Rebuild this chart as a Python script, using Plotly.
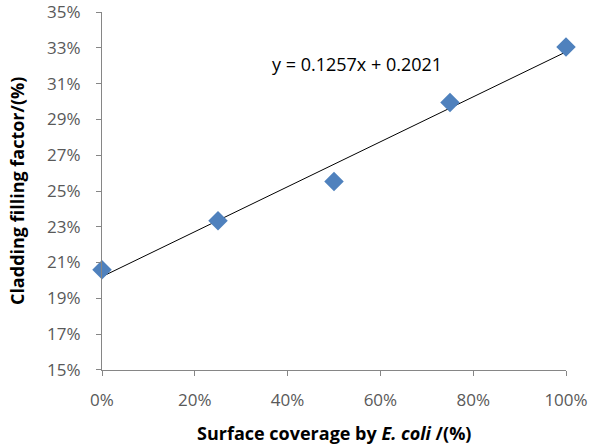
import plotly.graph_objects as go

# Measured filling factor versus E. coli surface coverage (fractions)
coverage = [0.0, 0.25, 0.50, 0.75, 1.00]
filling_factor = [0.2059, 0.2334, 0.2553, 0.2995, 0.3305]

# Linear fit reported on the chart
slope = 0.1257
intercept = 0.2021
fit_x = [0.0, 1.0]
fit_y = [intercept + slope * x for x in fit_x]
equation = f"y = {slope}x + {intercept}"

x_ticks = [0.0, 0.2, 0.4, 0.6, 0.8, 1.0]
y_ticks = [0.15, 0.17, 0.19, 0.21, 0.23, 0.25, 0.27, 0.29, 0.31, 0.33, 0.35]

tick_font = dict(family="Open Sans", size=17, color="#595959")
title_font = dict(family="Open Sans", size=18, color="#000000")
axis_color = "#868686"

fig = go.Figure()

fig.add_trace(go.Scatter(
    x=fit_x, y=fit_y, mode="lines",
    line=dict(color="#000000", width=1),
    hoverinfo="skip", showlegend=False,
))

fig.add_trace(go.Scatter(
    x=coverage, y=filling_factor, mode="markers",
    marker=dict(symbol="diamond", size=15, color="#4F81BD"),
    cliponaxis=False, showlegend=False,
))

fig.add_annotation(
    x=0.55, y=0.3212, xref="x", yref="y",
    text=equation, showarrow=False,
    font=dict(family="Open Sans", size=18, color="#000000"),
)

# Axis titles placed in paper coordinates so the plot area stays fixed
fig.add_annotation(
    x=0.5, y=-0.175, xref="paper", yref="paper",
    xanchor="center", yanchor="middle", showarrow=False,
    text="<b>Surface coverage by <i>E. coli</i> /(%)</b>", font=title_font,
)
fig.add_annotation(
    x=-0.183, y=0.5, xref="paper", yref="paper",
    xanchor="center", yanchor="middle", showarrow=False, textangle=-90,
    text="<b>Cladding filling factor/(%)</b>", font=title_font,
)

fig.update_xaxes(
    range=[0, 1], tickvals=x_ticks, tickformat=".0%",
    showgrid=False, zeroline=False, automargin=False,
    showline=True, linecolor=axis_color, linewidth=1,
    ticks="outside", ticklen=5, tickcolor=axis_color,
    tickfont=tick_font, ticklabelstandoff=10,
)
fig.update_yaxes(
    range=[0.1499, 0.3501], tickvals=y_ticks, tickformat=".0%",
    showgrid=False, zeroline=False, automargin=False,
    showline=True, linecolor=axis_color, linewidth=1,
    ticks="outside", ticklen=5, tickcolor=axis_color,
    tickfont=tick_font, ticklabelstandoff=12,
)

fig.update_layout(
    width=589, height=447,
    margin=dict(l=102, r=23, t=12, b=77),
    paper_bgcolor="#ffffff", plot_bgcolor="#ffffff",
)

fig.write_html("out.html")
